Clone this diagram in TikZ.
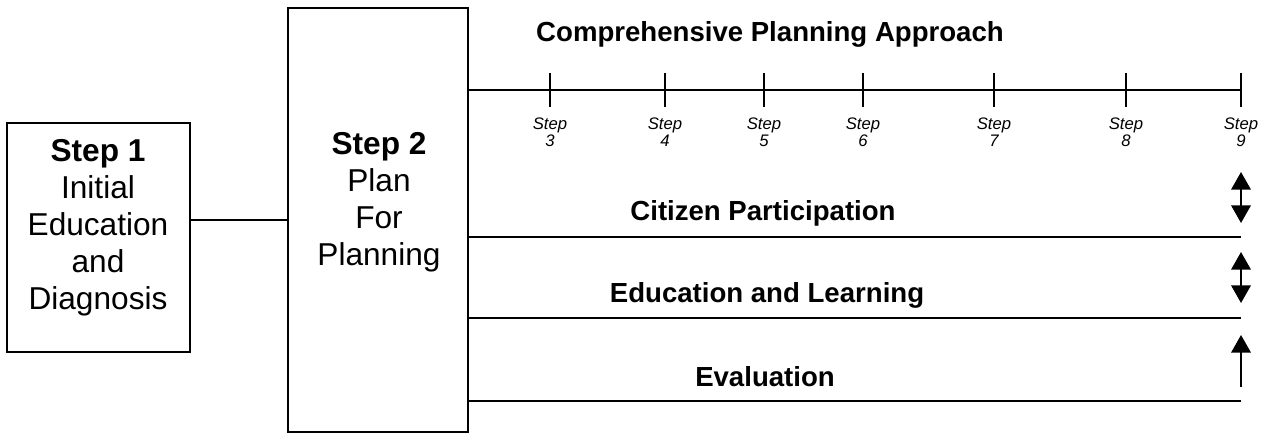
\documentclass[tikz,border=0pt]{standalone}
\usepackage{fontspec}
\setmainfont{Liberation Sans}
\usetikzlibrary{arrows.meta,positioning}

\tikzset{
  stepbox/.style={draw, line width=1.2pt, inner sep=0pt},
  boxtext/.style={anchor=north, inner sep=0pt, align=center,
    font=\fontsize{18}{21}\selectfont},
  track/.style={line width=1.3pt},
  tracklabel/.style={font=\fontsize{15.7}{18}\selectfont\bfseries},
  steplabel/.style={anchor=north, inner sep=0pt, align=center,
    font=\fontsize{9.5}{7.8}\selectfont\itshape},
  flow/.style={line width=1.3pt, -{Triangle[length=10pt, width=11pt]}},
  flowboth/.style={line width=1.3pt,
    {Triangle[length=10pt, width=11pt]}-{Triangle[length=10pt, width=11pt]}}
}

\begin{document}
\begin{tikzpicture}
\useasboundingbox (0,0) rectangle (25.38,8.66);

% the two first steps
\node[stepbox, minimum width=3.66cm, minimum height=4.58cm] (step1) at (1.97,3.91) {};
\node[stepbox, minimum width=3.6cm, minimum height=8.48cm] (step2) at (7.56,4.26) {};

\node[boxtext] (step1txt) at (1.96,5.88) {\textbf{Step 1}\\Initial\\Education\\and\\Diagnosis};
\node[boxtext] (step2txt) at (7.58,6.02) {\textbf{Step 2}\\Plan\\For\\Planning};

\draw[track] (step2.west) -- (step2.west -| step1.east);

% comprehensive planning time line
\node[tracklabel] (approach) at (15.4,7.98) {Comprehensive Planning Approach};

\foreach \n/\x in {3/11.0, 4/13.3, 5/15.28, 6/17.26, 7/19.88, 8/22.52, 9/24.82} {
  \coordinate (tick\n) at (\x,6.86);
  \draw[track] (\x,6.52) -- (\x,7.2);
  \node[steplabel] (step\n) at (\x,6.31) {Step\\\n};
}
\draw[track] (tick9 -| step2.east) -- (tick9);

% continuous activities
\coordinate (citizenR) at (24.82,3.92);
\coordinate (learnR) at (24.82,2.3);
\coordinate (evalR) at (24.82,0.64);

\draw[track] (citizenR -| step2.east) -- (citizenR);
\draw[track] (learnR -| step2.east) -- (learnR);
\draw[track] (evalR -| step2.east) -- (evalR);

\node[tracklabel] (citizen) at (15.26,4.4) {Citizen Participation};
\node[tracklabel] (learning) at (15.34,2.76) {Education and Learning};
\node[tracklabel] (evaluation) at (15.3,1.12) {Evaluation};

\coordinate (citizenT) at (24.82,5.22);
\coordinate (citizenB) at (24.82,4.2);
\coordinate (learnT) at (24.82,3.62);
\coordinate (learnB) at (24.82,2.6);
\coordinate (evalT) at (24.82,1.96);
\coordinate (evalB) at (24.82,0.92);

\draw[flowboth] (citizenT) -- (citizenB);
\draw[flowboth] (learnT) -- (learnB);
\draw[flow] (evalB) -- (evalT);

\end{tikzpicture}
\end{document}
